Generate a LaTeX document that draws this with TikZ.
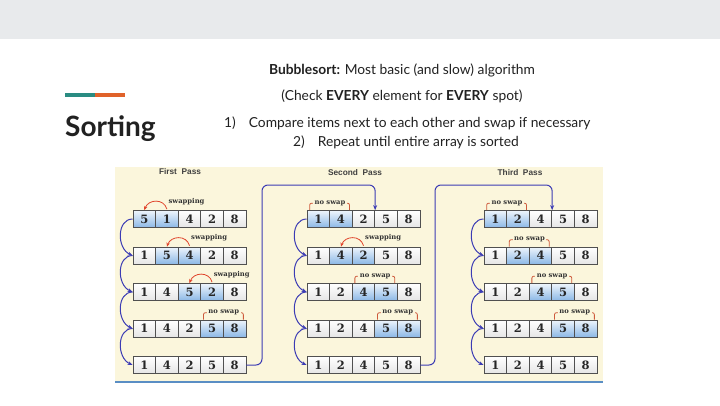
\documentclass[tikz,border=0pt]{standalone}
\usepackage{fontspec}
\setmainfont{Lato}
\newfontfamily\cellfont{DejaVu Serif}
\newfontfamily\titlefont{Liberation Sans}
\usepackage{tikz}
\usetikzlibrary{arrows.meta,calc,shadows}
\definecolor{topband}{RGB}{232,234,236}
\definecolor{panelbg}{RGB}{251,246,220}
\definecolor{ink}{RGB}{33,33,33}
\definecolor{accteal}{RGB}{42,140,130}
\definecolor{accorange}{RGB}{224,98,42}
\definecolor{cellborder}{RGB}{80,80,80}
\definecolor{hltop}{RGB}{238,245,252}
\definecolor{hlbot}{RGB}{140,184,230}
\definecolor{passblue}{RGB}{60,60,180}
\definecolor{swapred}{RGB}{224,68,44}
\definecolor{brkred}{RGB}{205,90,60}
\definecolor{baseblue}{RGB}{90,142,196}
\newcommand{\cellrow}[4]{% name, left x, centre y, value/style list
  \foreach \val/\sty [count=\k] in {#4}
    { \node[\sty] (#1-\k) at ({#2+(\k-0.5)*22.6},#3) {\val}; }
}
\newcommand{\swapmark}[2]{% left cell, right cell
  \draw[swaparr] ([yshift=1pt]#2.north) .. controls +(-3,11) and +(4,11) .. (#1.north);
  \node[tag,anchor=west] (#2-sw) at ([xshift=1pt,yshift=8.5pt]#2.north) {swapping};
}
\newcommand{\noswap}[2]{% left cell, right cell
  \draw[brk] ([xshift=3pt]#1.north west) -- ++(0,7) -| ([xshift=-3pt]#2.north east);
  \node[tag,fill=panelbg,inner xsep=1.5pt,inner ysep=0pt] (#1-ns) at ([yshift=7pt]#1.north east) {no swap};
}
\tikzset{
  cl/.style      = {draw=cellborder, line width=0.7pt, top color=white, bottom color=gray!20,
                    minimum width=22.6pt, minimum height=17pt, inner sep=0pt,
                    drop shadow={shadow xshift=0.8pt,shadow yshift=-0.8pt,opacity=0.35},
                    font=\cellfont\bfseries\fontsize{11.5}{13}\selectfont, text=black!85},
  hl/.style      = {cl, top color=hltop, bottom color=hlbot},
  tag/.style     = {font=\cellfont\bfseries\fontsize{6.8}{7}\selectfont, text=black!80, inner sep=0.5pt},
  passtitle/.style = {font=\titlefont\bfseries\fontsize{8.3}{9}\selectfont, text=black!75},
  swaparr/.style = {swapred, line width=0.8pt, -{Stealth[length=4pt,width=3.5pt]}},
  brk/.style     = {brkred, line width=0.8pt, rounded corners=2pt},
  rowarr/.style  = {passblue, line width=1pt, -{Stealth[length=5pt,width=4pt]}},
  body/.style    = {font=\fontsize{13.8}{15}\selectfont, text=ink, inner sep=0pt}
}

\begin{document}
\begin{tikzpicture}[x=1pt,y=1pt]
  \useasboundingbox (0,0) rectangle (720,405);
  \fill[white] (0,0) rectangle (720,405);
  \fill[topband] (0,366) rectangle (720,405);
  % slide title and text
  \fill[accteal] (65,308) rectangle (95,312);
  \fill[accorange] (95,308) rectangle (125,312);
  \node[anchor=base west,inner sep=0pt,text=ink,font=\bfseries\fontsize{28}{30}\selectfont] (ttl) at (65,269) {Sorting};
  \node[body,anchor=base] (l1) at (402,330.5) {\textbf{Bubblesort:} Most basic (and slow) algorithm};
  \node[body,anchor=base] (l2) at (402,304) {(Check \textbf{EVERY} element for \textbf{EVERY} spot)};
  \node[body,anchor=base west] (l3) at (224,277.5) {1)\hspace{13pt}Compare items next to each other and swap if necessary};
  \node[body,anchor=base west] (l4) at (293,258.5) {2)\hspace{13pt}Repeat until entire array is sorted};
  % picture panel
  \fill[panelbg] (115,23) rectangle (603,238);
  \draw[baseblue,line width=2pt] (115,23.5) -- (603,23.5);
  \node[passtitle] (tA) at (180,233) {First\ \ Pass};
  \node[passtitle] (tB) at (355,232) {Second\ \ Pass};
  \node[passtitle] (tC) at (520,232) {Third\ \ Pass};
  % first pass
  \cellrow{A1}{133}{186}{5/hl,1/hl,4/cl,2/cl,8/cl}
  \cellrow{A2}{133}{149.5}{1/cl,5/hl,4/hl,2/cl,8/cl}
  \cellrow{A3}{133}{113}{1/cl,4/cl,5/hl,2/hl,8/cl}
  \cellrow{A4}{133}{76.5}{1/cl,4/cl,2/cl,5/hl,8/hl}
  \cellrow{A5}{133}{40}{1/cl,4/cl,2/cl,5/cl,8/cl}
  % second pass
  \cellrow{B1}{307}{186}{1/hl,4/hl,2/cl,5/cl,8/cl}
  \cellrow{B2}{307}{149.5}{1/cl,4/hl,2/hl,5/cl,8/cl}
  \cellrow{B3}{307}{113}{1/cl,2/cl,4/hl,5/hl,8/cl}
  \cellrow{B4}{307}{76.5}{1/cl,2/cl,4/cl,5/hl,8/hl}
  \cellrow{B5}{307}{40}{1/cl,2/cl,4/cl,5/cl,8/cl}
  % third pass
  \cellrow{C1}{484}{186}{1/hl,2/hl,4/cl,5/cl,8/cl}
  \cellrow{C2}{484}{149.5}{1/cl,2/hl,4/hl,5/cl,8/cl}
  \cellrow{C3}{484}{113}{1/cl,2/cl,4/hl,5/hl,8/cl}
  \cellrow{C4}{484}{76.5}{1/cl,2/cl,4/cl,5/hl,8/hl}
  \cellrow{C5}{484}{40}{1/cl,2/cl,4/cl,5/cl,8/cl}
  % swaps
  \swapmark{A1-1}{A1-2}
  \swapmark{A2-2}{A2-3}
  \swapmark{A3-3}{A3-4}
  \noswap{A4-4}{A4-5}
  \noswap{B1-1}{B1-2}
  \swapmark{B2-2}{B2-3}
  \noswap{B3-3}{B3-4}
  \noswap{B4-4}{B4-5}
  \noswap{C1-1}{C1-2}
  \noswap{C2-2}{C2-3}
  \noswap{C3-3}{C3-4}
  \noswap{C4-4}{C4-5}
  % connectors
  \foreach \p in {A,B,C}
    \foreach \r/\nx in {1/2,2/3,3/4,4/5}
      { \draw[rowarr] (\p\r-1.west) .. controls +(-16,0) and +(-16,7) .. (\p\nx-1.west); }
  \coordinate (AB) at (262,220);
  \coordinate (BC) at (435,220);
  \draw[rowarr,rounded corners=6pt] (A5-5.east) -| (AB) -| (B1-3.north east);
  \draw[rowarr,rounded corners=6pt] (B5-5.east) -| (BC) -| (C1-3.north east);
\end{tikzpicture}
\end{document}
